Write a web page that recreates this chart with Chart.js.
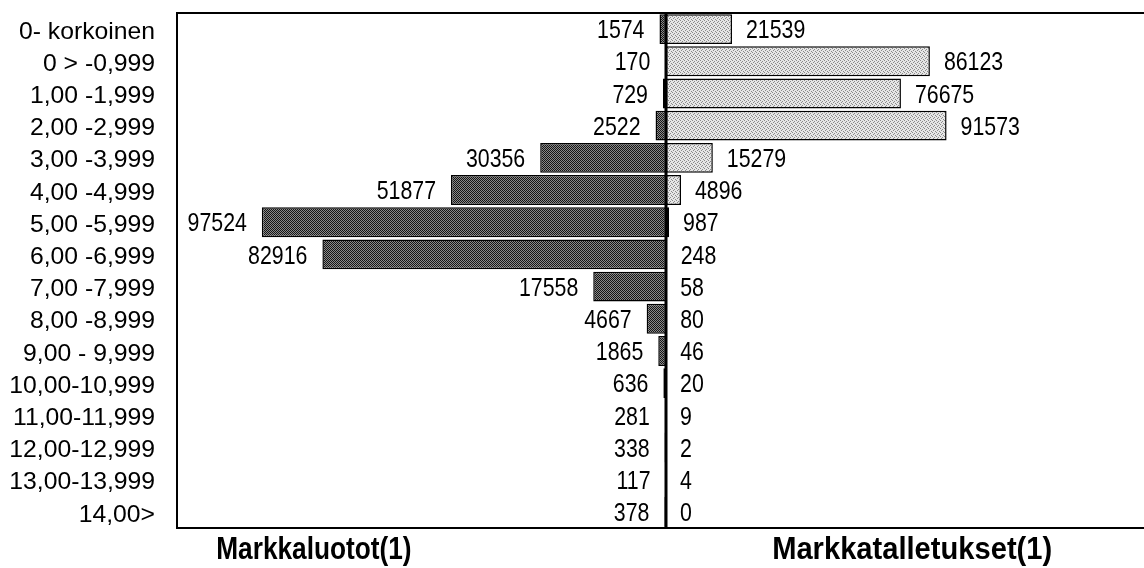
<!DOCTYPE html>
<html>
<head>
<meta charset="utf-8">
<script src="https://cdn.jsdelivr.net/npm/chart.js@4"></script>
<style>
html, body { margin: 0; padding: 0; background: #fff; }
</style>
</head>
<body>
<canvas id="myChart" width="1144" height="568"></canvas>
<script>
const categories = ['0- korkoinen', '0 > -0,999', '1,00 -1,999', '2,00 -2,999', '3,00 -3,999',
    '4,00 -4,999', '5,00 -5,999', '6,00 -6,999', '7,00 -7,999', '8,00 -8,999', '9,00 - 9,999',
    '10,00-10,999', '11,00-11,999', '12,00-12,999', '13,00-13,999', '14,00>'];
const loans = [1574, 170, 729, 2522, 30356, 51877, 97524, 82916, 17558, 4667, 1865, 636, 281, 338, 117, 378];
const deposits = [21539, 86123, 76675, 91573, 15279, 4896, 987, 248, 58, 80, 46, 20, 9, 2, 4, 0];
const axisTitles = ['Markkaluotot(1)', 'Markkatalletukset(1)'];

const FONT = "'Liberation Sans', Arial, sans-serif";

// small bitmap fills to imitate the printed screens
function makePattern(base, ink, cells) {
    const c = document.createElement('canvas');
    c.width = 4;
    c.height = 4;
    const g = c.getContext('2d');
    g.fillStyle = base;
    g.fillRect(0, 0, 4, 4);
    g.fillStyle = ink;
    cells.forEach(p => g.fillRect(p[0], p[1], 1, 1));
    return g.createPattern(c, 'repeat');
}
const darkFill = makePattern('#8a8a8a', '#151515',
    [[0, 0], [1, 1], [2, 2], [3, 3], [2, 0], [3, 1], [0, 2], [1, 3]]);
const lightFill = makePattern('#e6e6e6', '#8a8a8a', [[0, 0], [2, 1], [1, 2], [3, 3]]);

// text squeezed or stretched sideways, like the original typesetting
function drawText(ctx, text, x, y, align, sx) {
    ctx.save();
    ctx.translate(x, y);
    ctx.scale(sx, 1);
    ctx.textAlign = align;
    ctx.fillText(text, 0, 0);
    ctx.restore();
}

const decorations = {
    id: 'decorations',
    afterDatasetsDraw(chart) {
        const { ctx, chartArea: a, scales } = chart;
        const x0 = scales.xL.getPixelForValue(0);
        ctx.save();
        ctx.strokeStyle = '#000';
        ctx.lineWidth = 2;
        ctx.beginPath();
        ctx.moveTo(a.right, a.top);
        ctx.lineTo(a.left, a.top);
        ctx.lineTo(a.left, a.bottom);
        ctx.lineTo(a.right, a.bottom);
        ctx.stroke();

        ctx.lineWidth = 3;
        ctx.beginPath();
        ctx.moveTo(x0, a.top);
        ctx.lineTo(x0, a.bottom);
        ctx.stroke();

        ctx.fillStyle = '#000';
        ctx.textBaseline = 'middle';

        // category labels
        ctx.font = '24px ' + FONT;
        categories.forEach((c, i) => {
            drawText(ctx, c, a.left - 22, scales.y.getPixelForValue(i) + 3, 'right', 1.03);
        });

        // value labels
        ctx.font = '26px ' + FONT;
        chart.getDatasetMeta(0).data.forEach((bar, i) => {
            drawText(ctx, String(loans[i]), Math.min(bar.x, x0) - 15, bar.y + 2, 'right', 0.82);
        });
        chart.getDatasetMeta(1).data.forEach((bar, i) => {
            drawText(ctx, String(deposits[i]), Math.max(bar.x, x0) + 14, bar.y + 2, 'left', 0.82);
        });

        ctx.font = 'bold 32px ' + FONT;
        ctx.textBaseline = 'alphabetic';
        drawText(ctx, axisTitles[0], a.left + (x0 - a.left) * 0.28, 559, 'center', 0.82);
        drawText(ctx, axisTitles[1], x0 + (a.right - x0) * 0.515, 559, 'center', 0.91);
        ctx.restore();
    }
};

new Chart(document.getElementById('myChart'), {
    type: 'bar',
    data: {
        labels: categories,
        datasets: [{
            label: axisTitles[0],
            data: loans,
            xAxisID: 'xL',
            backgroundColor: darkFill,
            borderColor: '#000',
            borderWidth: 1.5,
            borderSkipped: false,
            grouped: false,
            categoryPercentage: 1,
            barPercentage: 0.93
        }, {
            label: axisTitles[1],
            data: deposits,
            xAxisID: 'xR',
            backgroundColor: lightFill,
            borderColor: '#000',
            borderWidth: 1.5,
            borderSkipped: false,
            grouped: false,
            categoryPercentage: 1,
            barPercentage: 0.93
        }]
    },
    options: {
        indexAxis: 'y',
        responsive: false,
        animation: false,
        layout: {
            padding: { top: 13, bottom: 40, left: 0, right: 0 }
        },
        plugins: {
            legend: { display: false },
            tooltip: { enabled: false }
        },
        scales: {
            y: {
                type: 'category',
                grid: { display: false, drawTicks: false },
                border: { display: false },
                ticks: { display: false },
                afterFit: function(scale) {
                    scale.width = 177;
                }
            },
            xL: {
                type: 'linear',
                position: 'bottom',
                reverse: true,
                min: 0,
                max: 118000,
                stack: 'x',
                stackWeight: 489,
                grid: { display: false, drawTicks: false },
                border: { display: false },
                ticks: { display: false },
                afterFit: function(scale) {
                    scale.height = 0;
                }
            },
            xR: {
                type: 'linear',
                position: 'bottom',
                min: 0,
                max: 156000,
                stack: 'x',
                stackWeight: 478,
                grid: { display: false, drawTicks: false },
                border: { display: false },
                ticks: { display: false },
                afterFit: function(scale) {
                    scale.height = 0;
                }
            }
        }
    },
    plugins: [decorations]
});
</script>
</body>
</html>
